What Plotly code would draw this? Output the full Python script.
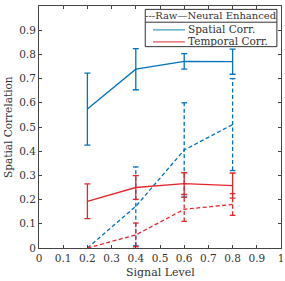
import plotly.graph_objects as go

signal = [0.2, 0.4, 0.6, 0.8]
spatial_neural = [0.574, 0.739, 0.771, 0.77]
spatial_neural_err = [0.149, 0.085, 0.032, 0.052]
spatial_raw = [0.0, 0.172, 0.405, 0.51]
spatial_raw_err = [0.0, 0.163, 0.195, 0.19]
temporal_neural = [0.193, 0.25, 0.266, 0.258]
temporal_neural_err = [0.072, 0.049, 0.045, 0.052]
temporal_raw = [0.0, 0.054, 0.16, 0.18]
temporal_raw_err = [0.0, 0.049, 0.05, 0.045]
xticks = [0, 0.1, 0.2, 0.3, 0.4, 0.5, 0.6, 0.7, 0.8, 0.9, 1]
yticks = [0, 0.1, 0.2, 0.3, 0.4, 0.5, 0.6, 0.7, 0.8, 0.9, 1]

BLUE = "#0072BD"
RED = "#E4262B"
LEG_BLUE = "#3D9CC0"
LEG_RED = "#E2555A"
FONT = "DejaVu Serif"
TXT = "#333333"
LW = 1.3
DASH = "4px,2.5px"

fig = go.Figure()


def add_solid(y, err, color):
    fig.add_trace(go.Scatter(
        x=signal, y=y, mode="lines",
        line=dict(color=color, width=LW),
        error_y=dict(type="data", array=err, visible=True, color=color,
                     thickness=LW, width=3),
        showlegend=False, hoverinfo="skip"))


def add_dashed(y, err, color):
    bx, by, cx, cy = [], [], [], []
    for xi, yi, ei in zip(signal, y, err):
        if ei > 0:
            bx += [xi, xi, None]
            by += [yi - ei, yi + ei, None]
            cx += [xi, xi]
            cy += [yi - ei, yi + ei]
    fig.add_trace(go.Scatter(x=bx, y=by, mode="lines",
                             line=dict(color=color, width=LW, dash=DASH),
                             showlegend=False, hoverinfo="skip"))
    fig.add_trace(go.Scatter(x=cx, y=cy, mode="markers",
                             marker=dict(symbol="line-ew", size=4,
                                         line=dict(color=color, width=LW)),
                             showlegend=False, hoverinfo="skip"))
    fig.add_trace(go.Scatter(x=signal, y=y, mode="lines",
                             line=dict(color=color, width=LW, dash=DASH),
                             showlegend=False, hoverinfo="skip"))


add_dashed(spatial_raw, spatial_raw_err, BLUE)
add_dashed(temporal_raw, temporal_raw_err, RED)
add_solid(spatial_neural, spatial_neural_err, BLUE)
add_solid(temporal_neural, temporal_neural_err, RED)

shapes = [
    dict(type="rect", xref="paper", yref="paper", x0=0.439, x1=0.983, y0=0.832, y1=0.986,
         line=dict(color="#333", width=1), fillcolor="white", layer="above"),
    dict(type="line", xref="paper", yref="paper", x0=0.439, x1=0.983, y0=0.933, y1=0.933,
         line=dict(color="#333", width=1), layer="above"),
    dict(type="line", xref="paper", yref="paper", x0=0.471, x1=0.603, y0=0.901, y1=0.901,
         line=dict(color=LEG_BLUE, width=LW), layer="above"),
    dict(type="line", xref="paper", yref="paper", x0=0.471, x1=0.603, y0=0.852, y1=0.852,
         line=dict(color=LEG_RED, width=LW), layer="above"),
]
annotations = [
    dict(xref="paper", yref="paper", x=0.711, y=0.959, xanchor="center", yanchor="middle",
         text="---Raw\u2014Neural Enhanced",
         showarrow=False, font=dict(family=FONT, size=10, color=TXT)),
    dict(xref="paper", yref="paper", x=0.606, y=0.903, text="Spatial Corr.", xanchor="left",
         yanchor="middle", showarrow=False, font=dict(family=FONT, size=10.5, color=TXT)),
    dict(xref="paper", yref="paper", x=0.606, y=0.854, text="Temporal Corr.", xanchor="left",
         yanchor="middle", showarrow=False, font=dict(family=FONT, size=10.5, color=TXT)),
    dict(xref="paper", yref="paper", x=0.5, y=0, yanchor="middle", xanchor="center", yshift=-24,
         text="Signal Level", showarrow=False,
         font=dict(family=FONT, size=11, color=TXT)),
    dict(xref="paper", yref="paper", x=0, y=0.5, xanchor="center", yanchor="middle", xshift=-31,
         textangle=-90, text="Spatial Correlation", showarrow=False,
         font=dict(family=FONT, size=10.5, color=TXT)),
]

axis_common = dict(showgrid=False, zeroline=False, showline=True, linecolor="#444",
                   linewidth=1, mirror="ticks", ticks="inside", ticklen=3,
                   tickcolor="#444", automargin=False,
                   tickfont=dict(family=FONT, size=10.5, color=TXT))

fig.update_layout(
    width=285, height=281,
    margin=dict(l=39, r=4, t=6, b=33),
    plot_bgcolor="white", paper_bgcolor="white",
    font=dict(family=FONT),
    xaxis=dict(range=[0, 1], tickvals=xticks, ticktext=[f"{v:g}" for v in xticks],
               **axis_common),
    yaxis=dict(range=[0, 1], tickvals=yticks, ticktext=[f"{v:g}" for v in yticks],
               **axis_common),
    shapes=shapes, annotations=annotations,
)
fig.write_html("out.html", config={"displayModeBar": False},
               post_script="document.body.style.margin='0';document.body.style.overflow='hidden';")
